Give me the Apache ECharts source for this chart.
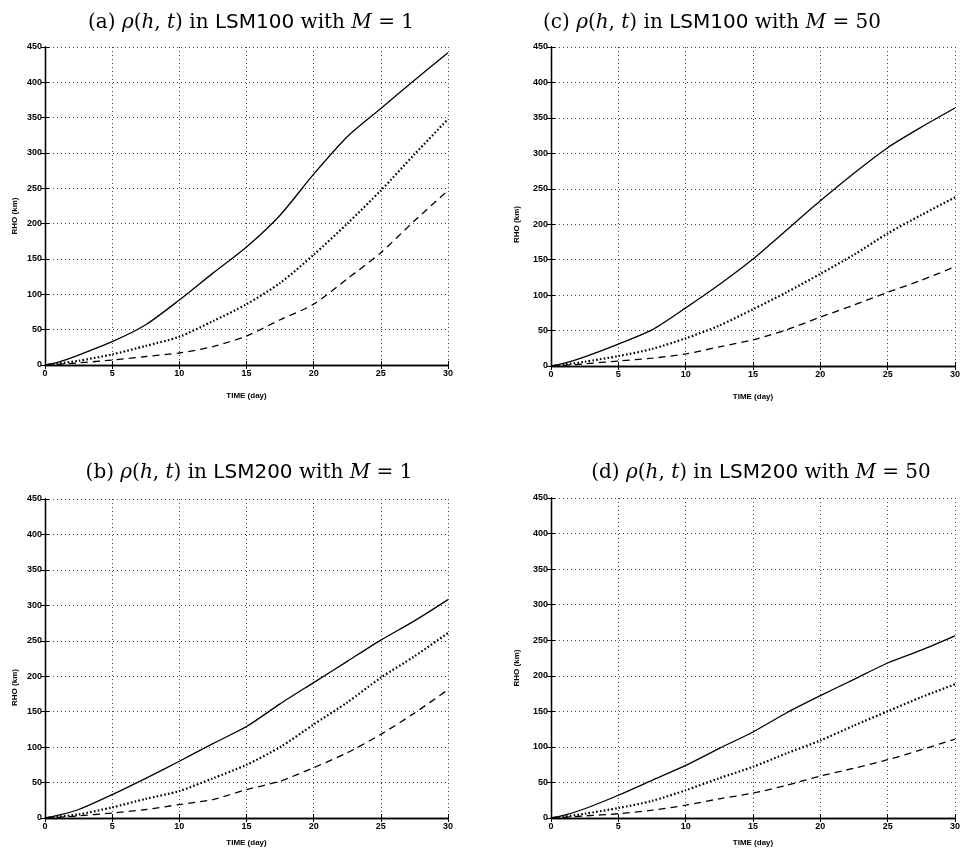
<!DOCTYPE html>
<html><head><meta charset="utf-8">
<script src="https://cdn.jsdelivr.net/npm/echarts@6/dist/echarts.min.js"></script>
<style>html,body{margin:0;padding:0;background:#fff}#c{width:965px;height:851px}</style>
</head><body><div id="c"></div>
<script>
const time = [0, 1, 2.5, 5, 7.5, 10, 12.5, 15, 17.5, 20, 22.5, 25, 27.5, 30];
const xTicks = [0, 5, 10, 15, 20, 25, 30];
const yTicks = [0, 50, 100, 150, 200, 250, 300, 350, 400, 450];

const aSolid  = [0, 4, 14, 33, 57, 92, 130, 167, 212, 270, 323, 363, 403, 442];
const aDotted = [0, 2, 6, 15, 27, 40, 62, 86, 116, 156, 200, 247, 298, 348];
const aDashed = [0, 1, 3, 7, 12, 17, 26, 41, 64, 86, 122, 159, 204, 247];

const cSolid  = [0, 4, 13, 31, 51, 82, 115, 151, 192, 233, 272, 308, 337, 364];
const cDotted = [0, 2, 6, 14, 24, 39, 57, 80, 104, 130, 157, 187, 213, 238];
const cDashed = [0, 1, 3, 7, 11, 17, 27, 37, 51, 69, 86, 104, 121, 140];

const bSolid  = [0, 4, 12, 33, 56, 80, 105, 129, 161, 191, 221, 251, 278, 308];
const bDotted = [0, 2, 5, 15, 27, 38, 56, 75, 100, 132, 163, 198, 228, 261];
const bDashed = [0, 1, 3, 7, 12, 19, 26, 40, 52, 71, 92, 118, 148, 181];

const dSolid  = [0, 4, 13, 32, 53, 74, 98, 121, 148, 172, 195, 218, 236, 256];
const dDotted = [0, 2, 6, 14, 24, 39, 56, 72, 91, 109, 130, 150, 170, 188];
const dDashed = [0, 1, 3, 6, 11, 18, 27, 35, 46, 59, 70, 82, 96, 111];

const titles = [
  {letter: '(a)', model: 'LSM100', m: '1'},
  {letter: '(c)', model: 'LSM100', m: '50'},
  {letter: '(b)', model: 'LSM200', m: '1'},
  {letter: '(d)', model: 'LSM200', m: '50'}
];
const panelData = [
  [aSolid, aDotted, aDashed],
  [cSolid, cDotted, cDashed],
  [bSolid, bDotted, bDashed],
  [dSolid, dDotted, dDashed]
];

const grids = [
  {left: 45, top: 47, width: 403, height: 318},
  {left: 551, top: 47, width: 404, height: 319},
  {left: 45, top: 499, width: 403, height: 319},
  {left: 551, top: 498, width: 404, height: 320}
];
const titlePos = [
  {x: 246, y: 18}, {x: 707, y: 18}, {x: 244, y: 468}, {x: 756, y: 468}
];
const yNamePad = [[0, 20, 0, 0], [0, 36, 0, 0], [0, 58, 0, 0], [0, 20, 0, 0]];
const yNameGap = [26, 30, 26, 30];

const serif = '"DejaVu Serif","Liberation Serif",serif';
const sans = '"Liberation Sans",Arial,sans-serif';
const tsans = '"DejaVu Sans","Liberation Sans",sans-serif';
const lblFont = {fontFamily: sans, fontSize: 9, color: '#000', fontWeight: 'bold'};

const option = {
  animation: false,
  backgroundColor: '#fff',
  title: [], grid: [], xAxis: [], yAxis: [], series: []
};

titles.forEach((t, i) => {
  option.title.push({
    text: '{r|' + t.letter + ' }{i|ρ}{r|(}{i|h}{r|, }{i|t}{r|) in }{s|' + t.model + '}{r| with }{i|M}{r| = ' + t.m + '}',
    left: titlePos[i].x, top: titlePos[i].y, textAlign: 'center', textVerticalAlign: 'middle',
    textStyle: {
      fontWeight: 'normal',
      rich: {
        r: {fontFamily: serif, fontSize: 20, fontWeight: 'normal', color: '#000'},
        i: {fontFamily: serif, fontSize: 20, fontWeight: 'normal', fontStyle: 'italic', color: '#000'},
        s: {fontFamily: tsans, fontSize: 20, fontWeight: 'normal', color: '#000'}
      }
    }
  });
  option.grid.push(Object.assign({show: false}, grids[i]));
  option.xAxis.push({
    type: 'value', gridIndex: i, min: 0, max: 30, interval: 5,
    name: 'TIME (day)', nameLocation: 'middle', nameGap: i < 2 ? 27 : 21,
    nameTextStyle: {fontFamily: sans, fontSize: 8, color: '#000', fontWeight: 'bold'},
    axisLine: {show: true, lineStyle: {color: '#000', width: 1.3}},
    axisTick: {show: true, inside: true, length: 4, lineStyle: {color: '#000'}},
    axisLabel: Object.assign({margin: 4}, lblFont),
    splitLine: {show: true, lineStyle: {color: '#444', width: 1, type: [1, 3]}}
  });
  option.xAxis.push({
    type: 'value', gridIndex: i, min: 0, max: 30, interval: 5, position: 'top',
    axisLine: {show: true, lineStyle: {color: '#000', width: 1.3}},
    axisTick: {show: true, inside: true, length: 4, lineStyle: {color: '#000'}},
    axisLabel: {show: false}, splitLine: {show: false}
  });
  option.yAxis.push({
    type: 'value', gridIndex: i, min: 0, max: 450, interval: 50,
    name: 'RHO (km)', nameLocation: 'middle', nameGap: yNameGap[i], nameRotate: 90,
    nameTextStyle: {fontFamily: sans, fontSize: 8, color: '#000', fontWeight: 'bold', padding: yNamePad[i]},
    axisLine: {show: true, lineStyle: {color: '#000', width: 1.3}},
    axisTick: {show: true, inside: true, length: 4, lineStyle: {color: '#000'}},
    axisLabel: Object.assign({margin: 3}, lblFont),
    splitLine: {show: true, lineStyle: {color: '#444', width: 1, type: [1, 3]}}
  });
  option.yAxis.push({
    type: 'value', gridIndex: i, min: 0, max: 450, interval: 50, position: 'right',
    axisLine: {show: true, lineStyle: {color: '#000', width: 1.3}},
    axisTick: {show: true, inside: true, length: 4, lineStyle: {color: '#000'}},
    axisLabel: {show: false}, splitLine: {show: false}
  });
  const styles = [
    {width: 1.3, type: 'solid'},
    {width: 2.2, type: [1.6, 2.2]},
    {width: 1.3, type: [7, 5]}
  ];
  panelData[i].forEach((arr, k) => {
    option.series.push({
      type: 'line', xAxisIndex: 2 * i, yAxisIndex: 2 * i,
      data: time.map((tv, j) => [tv, arr[j]]),
      showSymbol: false, smooth: 0.25,
      lineStyle: Object.assign({color: '#000'}, styles[k]),
      z: 5
    });
  });
});

const chart = echarts.init(document.getElementById('c'), null, {renderer: 'canvas'});
chart.setOption(option);
</script></body></html>
